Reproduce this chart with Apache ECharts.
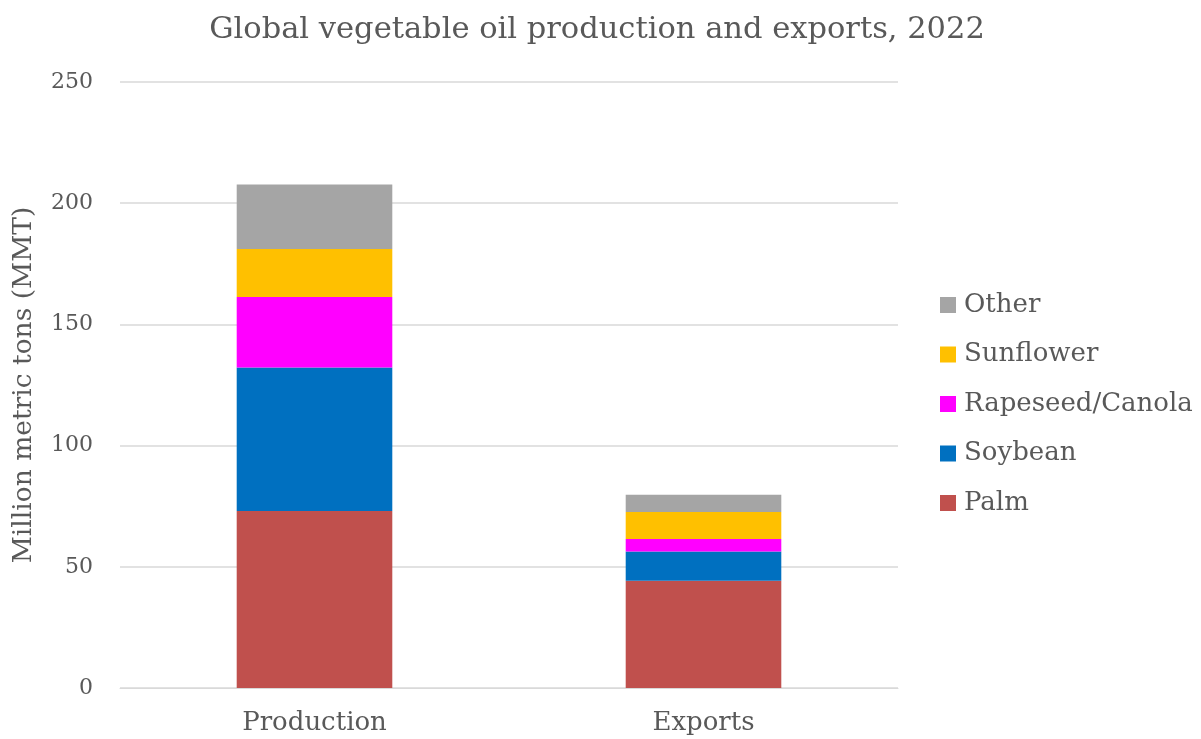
<!DOCTYPE html>
<html>
<head>
<meta charset="utf-8">
<script src="https://cdn.jsdelivr.net/npm/echarts@6/dist/echarts.min.js"></script>
<style>
  html, body { margin: 0; padding: 0; background: #ffffff; }
  #chart { width: 1201px; height: 739px; }
</style>
</head>
<body>
<div id="chart"></div>
<script>
// Categories and stacked values (million metric tons)
const categories = ['Production', 'Exports'];
const palm = [73.0, 44.2];
const soybean = [59.2, 12.1];
const rapeseed = [29.1, 5.2];
const sunflower = [19.8, 11.1];
const other = [26.6, 7.1];
const yTicks = [0, 50, 100, 150, 200, 250];

const FONT = '"DejaVu Serif", "Liberation Serif", serif';
const TEXT = '#595959';

const seriesDefs = [
  { name: 'Palm', data: palm, color: '#C0504D' },
  { name: 'Soybean', data: soybean, color: '#0070C0' },
  { name: 'Rapeseed/Canola', data: rapeseed, color: '#FF00FF' },
  { name: 'Sunflower', data: sunflower, color: '#FFC000' },
  { name: 'Other', data: other, color: '#A5A5A5' }
];

const chart = echarts.init(document.getElementById('chart'), null, { renderer: 'canvas' });
chart.setOption({
  animation: false,
  backgroundColor: '#ffffff',
  textStyle: { fontFamily: FONT },
  title: {
    text: 'Global vegetable oil production and exports, 2022',
    left: 592, top: 10, textAlign: 'center',
    textStyle: { fontFamily: FONT, fontSize: 30.5, fontWeight: 'normal', color: TEXT }
  },
  legend: {
    orient: 'vertical',
    left: 935, top: 287,
    itemWidth: 16, itemHeight: 16, itemGap: 23.5,
    icon: 'rect',
    data: seriesDefs.map(s => s.name).reverse(),
    textStyle: { fontFamily: FONT, fontSize: 26, color: TEXT, padding: [0, 0, 0, 3] }
  },
  grid: { left: 120, right: 303, top: 82, bottom: 51, containLabel: false },
  xAxis: {
    type: 'category',
    data: categories,
    axisLine: { lineStyle: { color: '#D9D9D9', width: 1 } },
    axisTick: { show: false },
    axisLabel: { fontFamily: FONT, fontSize: 26, color: TEXT, margin: 22 }
  },
  yAxis: {
    type: 'value',
    min: yTicks[0], max: yTicks[yTicks.length - 1], interval: 50,
    name: 'Million metric tons (MMT)',
    nameLocation: 'middle', nameGap: 82,
    nameTextStyle: { fontFamily: FONT, fontSize: 26.5, color: TEXT },
    axisLine: { show: false },
    axisTick: { show: false },
    splitLine: { lineStyle: { color: '#D9D9D9', width: 1.5 } },
    axisLabel: { fontFamily: FONT, fontSize: 22, color: TEXT, margin: 27 }
  },
  series: seriesDefs.map(s => ({
    name: s.name,
    type: 'bar',
    stack: 'total',
    data: s.data,
    barWidth: '40%',
    itemStyle: { color: s.color }
  }))
});
</script>
</body>
</html>
